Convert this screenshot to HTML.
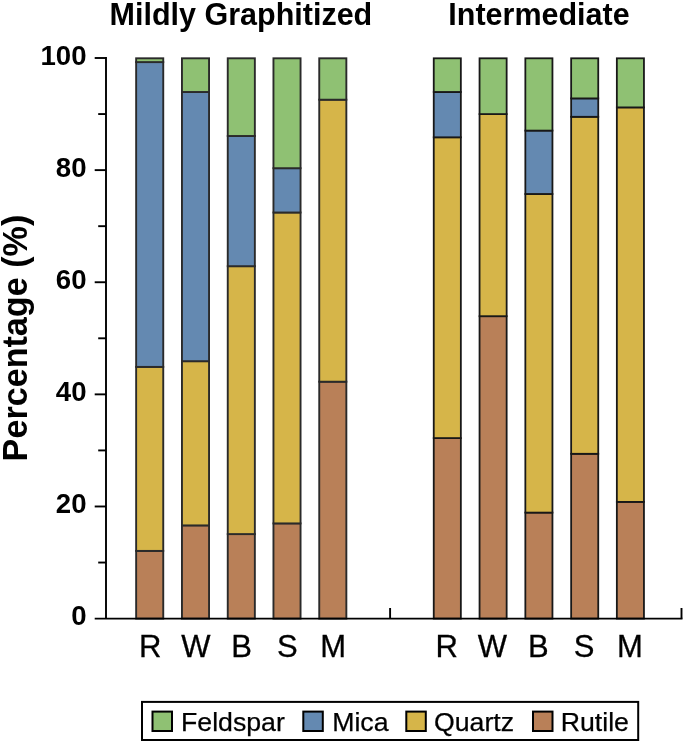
<!DOCTYPE html>
<html><head><meta charset="utf-8"><title>Chart</title>
<style>
html,body{margin:0;padding:0;background:#fff;}
svg{display:block;}
text{font-family:"Liberation Sans",Arial,Helvetica,sans-serif;fill:#000;}
.yt{font-size:27.6px;font-weight:bold;}
.xt{font-size:31px;stroke:#000;stroke-width:0.3px;}
.ti{font-size:30.5px;font-weight:bold;}
.yl{font-size:34.15px;font-weight:bold;}
.lg{font-size:26.7px;stroke:#000;stroke-width:0.25px;}
</style></head><body>
<svg width="685" height="744" viewBox="0 0 685 744">
<rect width="685" height="744" fill="#fff"/>
<g stroke="#2a2a2a" stroke-width="1.9">
<rect x="136.15" y="550.90" width="27.10" height="67.70" fill="#b98058"/>
<rect x="136.15" y="366.90" width="27.10" height="184.00" fill="#d6b549"/>
<rect x="136.15" y="62.10" width="27.10" height="304.80" fill="#6489b1"/>
<rect x="136.15" y="58.30" width="27.10" height="3.80" fill="#8fc173"/>
<rect x="181.95" y="525.40" width="27.10" height="93.20" fill="#b98058"/>
<rect x="181.95" y="361.20" width="27.10" height="164.20" fill="#d6b549"/>
<rect x="181.95" y="92.00" width="27.10" height="269.20" fill="#6489b1"/>
<rect x="181.95" y="58.30" width="27.10" height="33.70" fill="#8fc173"/>
<rect x="227.75" y="534.10" width="27.10" height="84.50" fill="#b98058"/>
<rect x="227.75" y="266.20" width="27.10" height="267.90" fill="#d6b549"/>
<rect x="227.75" y="136.00" width="27.10" height="130.20" fill="#6489b1"/>
<rect x="227.75" y="58.30" width="27.10" height="77.70" fill="#8fc173"/>
<rect x="273.45" y="523.40" width="27.10" height="95.20" fill="#b98058"/>
<rect x="273.45" y="212.50" width="27.10" height="310.90" fill="#d6b549"/>
<rect x="273.45" y="168.20" width="27.10" height="44.30" fill="#6489b1"/>
<rect x="273.45" y="58.30" width="27.10" height="109.90" fill="#8fc173"/>
<rect x="319.25" y="381.70" width="27.10" height="236.90" fill="#b98058"/>
<rect x="319.25" y="99.70" width="27.10" height="282.00" fill="#d6b549"/>
<rect x="319.25" y="58.30" width="27.10" height="41.40" fill="#8fc173"/>
</g>
<g stroke="#181818" stroke-width="1.8">
<rect x="433.75" y="438.10" width="27.10" height="180.50" fill="#b98058"/>
<rect x="433.75" y="137.30" width="27.10" height="300.80" fill="#d6b549"/>
<rect x="433.75" y="92.00" width="27.10" height="45.30" fill="#6489b1"/>
<rect x="433.75" y="58.30" width="27.10" height="33.70" fill="#8fc173"/>
<rect x="479.55" y="316.20" width="27.10" height="302.40" fill="#b98058"/>
<rect x="479.55" y="114.10" width="27.10" height="202.10" fill="#d6b549"/>
<rect x="479.55" y="58.30" width="27.10" height="55.80" fill="#8fc173"/>
<rect x="525.35" y="512.60" width="27.10" height="106.00" fill="#b98058"/>
<rect x="525.35" y="194.00" width="27.10" height="318.60" fill="#d6b549"/>
<rect x="525.35" y="130.60" width="27.10" height="63.40" fill="#6489b1"/>
<rect x="525.35" y="58.30" width="27.10" height="72.30" fill="#8fc173"/>
<rect x="571.15" y="453.80" width="27.10" height="164.80" fill="#b98058"/>
<rect x="571.15" y="116.80" width="27.10" height="337.00" fill="#d6b549"/>
<rect x="571.15" y="98.40" width="27.10" height="18.40" fill="#6489b1"/>
<rect x="571.15" y="58.30" width="27.10" height="40.10" fill="#8fc173"/>
<rect x="616.85" y="501.90" width="27.10" height="116.70" fill="#b98058"/>
<rect x="616.85" y="107.40" width="27.10" height="394.50" fill="#d6b549"/>
<rect x="616.85" y="58.30" width="27.10" height="49.10" fill="#8fc173"/>
</g>
<g stroke="#000" stroke-width="1.9" fill="none"><path d="M106 57 V618.6 M94.7 618.6 H682.5" /><path d="M98.2 562.54 H106"/><path d="M94.7 506.48 H106"/><path d="M98.2 450.42 H106"/><path d="M94.7 394.36 H106"/><path d="M98.2 338.30 H106"/><path d="M94.7 282.24 H106"/><path d="M98.2 226.18 H106"/><path d="M94.7 170.12 H106"/><path d="M98.2 114.06 H106"/><path d="M94.7 58.00 H106"/><path d="M390.1 618.6 V608 M681.5 618.6 V608"/></g>
<text class="yt" x="86.5" y="625.40" text-anchor="end">0</text>
<text class="yt" x="86.5" y="513.28" text-anchor="end">20</text>
<text class="yt" x="86.5" y="401.16" text-anchor="end">40</text>
<text class="yt" x="86.5" y="289.04" text-anchor="end">60</text>
<text class="yt" x="86.5" y="176.92" text-anchor="end">80</text>
<text class="yt" x="86.5" y="64.80" text-anchor="end">100</text>
<text class="xt" x="150.10" y="657.4" text-anchor="middle">R</text>
<text class="xt" x="195.90" y="657.4" text-anchor="middle">W</text>
<text class="xt" x="241.70" y="657.4" text-anchor="middle">B</text>
<text class="xt" x="287.40" y="657.4" text-anchor="middle">S</text>
<text class="xt" x="333.20" y="657.4" text-anchor="middle">M</text>
<text class="xt" x="446.70" y="657.4" text-anchor="middle">R</text>
<text class="xt" x="492.50" y="657.4" text-anchor="middle">W</text>
<text class="xt" x="538.30" y="657.4" text-anchor="middle">B</text>
<text class="xt" x="584.10" y="657.4" text-anchor="middle">S</text>
<text class="xt" x="629.80" y="657.4" text-anchor="middle">M</text>
<text class="ti" x="240.9" y="24.5" text-anchor="middle">Mildly Graphitized</text>
<text class="ti" x="539.0" y="24.5" text-anchor="middle">Intermediate</text>
<text class="yl" transform="translate(27.2 338.05) rotate(-90)" text-anchor="middle">Percentage (%)</text>
<rect x="142.0" y="701.9" width="496.2" height="38.1" fill="#fff" stroke="#000" stroke-width="2"/>
<rect x="152.5" y="711.6" width="19.5" height="19.4" fill="#8fc173" stroke="#000" stroke-width="2"/>
<text class="lg" x="181.0" y="730.7">Feldspar</text>
<rect x="303.3" y="711.6" width="19.5" height="19.4" fill="#6489b1" stroke="#000" stroke-width="2"/>
<text class="lg" x="332.2" y="730.7">Mica</text>
<rect x="406.3" y="711.6" width="19.5" height="19.4" fill="#d6b549" stroke="#000" stroke-width="2"/>
<text class="lg" x="434" y="730.7">Quartz</text>
<rect x="533" y="711.6" width="19.5" height="19.4" fill="#b98058" stroke="#000" stroke-width="2"/>
<text class="lg" x="560.7" y="730.7">Rutile</text>
</svg>
</body></html>
